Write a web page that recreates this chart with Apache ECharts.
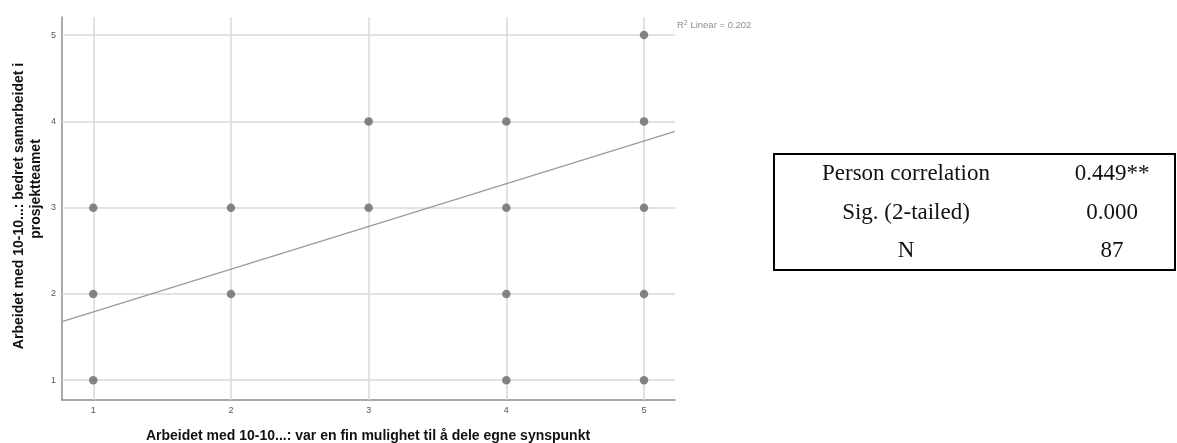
<!DOCTYPE html>
<html>
<head>
<meta charset="utf-8">
<script src="https://cdn.jsdelivr.net/npm/echarts@6/dist/echarts.min.js"></script>
<style>
  html, body { margin: 0; padding: 0; background: #fff; }
  #chart { width: 1177px; height: 443px; }
</style>
</head>
<body>
<div id="chart"></div>
<script>
// Observed answer pairs (x = "var en fin mulighet...", y = "bedret samarbeidet...")
const pointX = [1, 1, 1, 2, 2, 3, 3, 4, 4, 4, 4, 5, 5, 5, 5, 5];
const pointY = [3, 2, 1, 3, 2, 4, 3, 4, 3, 2, 1, 5, 4, 3, 2, 1];

// Linear fit line, end points at the axis limits
const fitX = [0.773, 5.225];
const fitY = [1.679, 3.884];

// Axis ranges and tick values
const xRange = [0.773, 5.225];
const yRange = [0.77, 5.21];
const tickValues = [1, 2, 3, 4, 5];

// Axis titles and fit annotation
const xTitle = 'Arbeidet med 10-10...: var en fin mulighet til å dele egne synspunkt';
const yTitleLines = ['Arbeidet med 10-10...: bedret samarbeidet i', 'prosjektteamet'];
const r2Value = '0.202';

// Correlation summary table
const tableLabels = ['Person correlation', 'Sig. (2-tailed)', 'N'];
const tableValues = ['0.449**', '0.000', '87'];

const chart = echarts.init(document.getElementById('chart'), null, { renderer: 'canvas' });

const gridColor = '#d9d9d9';
const scatterData = pointX.map((x, i) => [x, pointY[i]]);
const fitData = fitX.map((x, i) => [x, fitY[i]]);

const gridLines = []
  .concat(tickValues.map(v => ({ xAxis: v })))
  .concat(tickValues.map(v => ({ yAxis: v })));

const rowY = [174, 213, 251];
const tableFont = '23px "Liberation Serif"';
const tableGraphics = [
  {
    type: 'rect',
    shape: { x: 774, y: 154, width: 401, height: 116 },
    style: { fill: 'none', stroke: '#000', lineWidth: 2 },
    silent: true
  }
];
tableLabels.forEach((t, i) => {
  tableGraphics.push({
    type: 'text', x: 906, y: rowY[i],
    style: { text: t, fill: '#111', font: tableFont, align: 'center', verticalAlign: 'middle' },
    silent: true
  });
  tableGraphics.push({
    type: 'text', x: 1112, y: rowY[i],
    style: { text: tableValues[i], fill: '#111', font: tableFont, align: 'center', verticalAlign: 'middle' },
    silent: true
  });
});

const titleFont = 'bold 14px "Liberation Sans"';

const option = {
  animation: false,
  backgroundColor: '#fff',
  grid: { left: 62, top: 17, right: 502, bottom: 43, containLabel: false },
  xAxis: {
    type: 'value',
    min: xRange[0], max: xRange[1],
    axisLine: { show: true, lineStyle: { color: '#8c8c8c', width: 1.5 } },
    axisTick: { show: false },
    splitLine: { show: false },
    axisLabel: {
      customValues: tickValues,
      color: '#555', fontSize: 9, fontFamily: 'Liberation Sans', margin: 6
    }
  },
  yAxis: {
    type: 'value',
    min: yRange[0], max: yRange[1],
    axisLine: { show: true, lineStyle: { color: '#8c8c8c', width: 1.5 } },
    axisTick: { show: false },
    splitLine: { show: false },
    axisLabel: {
      customValues: tickValues,
      color: '#555', fontSize: 9, fontFamily: 'Liberation Sans', margin: 6
    }
  },
  series: [
    {
      type: 'scatter',
      data: scatterData,
      symbol: 'circle',
      symbolSize: 8.5,
      itemStyle: { color: '#686868' },
      z: 5,
      markLine: {
        silent: true,
        symbol: ['none', 'none'],
        label: { show: false },
        lineStyle: { color: gridColor, width: 1.5, type: 'solid' },
        data: gridLines,
        z: 1
      }
    },
    {
      type: 'line',
      data: fitData,
      showSymbol: false,
      symbol: 'none',
      lineStyle: { color: '#9a9a9a', width: 1.2 },
      z: 4
    }
  ],
  graphic: [
    {
      type: 'text', x: 368, y: 436,
      style: { text: xTitle, fill: '#111', font: titleFont, align: 'center', verticalAlign: 'middle' },
      silent: true
    },
    {
      type: 'text', x: 19, y: 206, rotation: Math.PI / 2,
      style: { text: yTitleLines[0], fill: '#111', font: titleFont, align: 'center', verticalAlign: 'middle' },
      silent: true
    },
    {
      type: 'text', x: 36, y: 189, rotation: Math.PI / 2,
      style: { text: yTitleLines[1], fill: '#111', font: titleFont, align: 'center', verticalAlign: 'middle' },
      silent: true
    },
    {
      type: 'text', x: 677, y: 25,
      style: {
        text: '{n|R}{s|2}{n| Linear = ' + r2Value + '}',
        align: 'left', verticalAlign: 'middle',
        rich: {
          n: { fontSize: 9.5, fill: '#8f8f8f', color: '#8f8f8f', fontFamily: 'Liberation Sans' },
          s: { fontSize: 7, fill: '#8f8f8f', color: '#8f8f8f', fontFamily: 'Liberation Sans', verticalAlign: 'top', padding: [0, 0, 4, 0] }
        }
      },
      silent: true
    }
  ].concat(tableGraphics)
};

chart.setOption(option);
</script>
</body>
</html>
